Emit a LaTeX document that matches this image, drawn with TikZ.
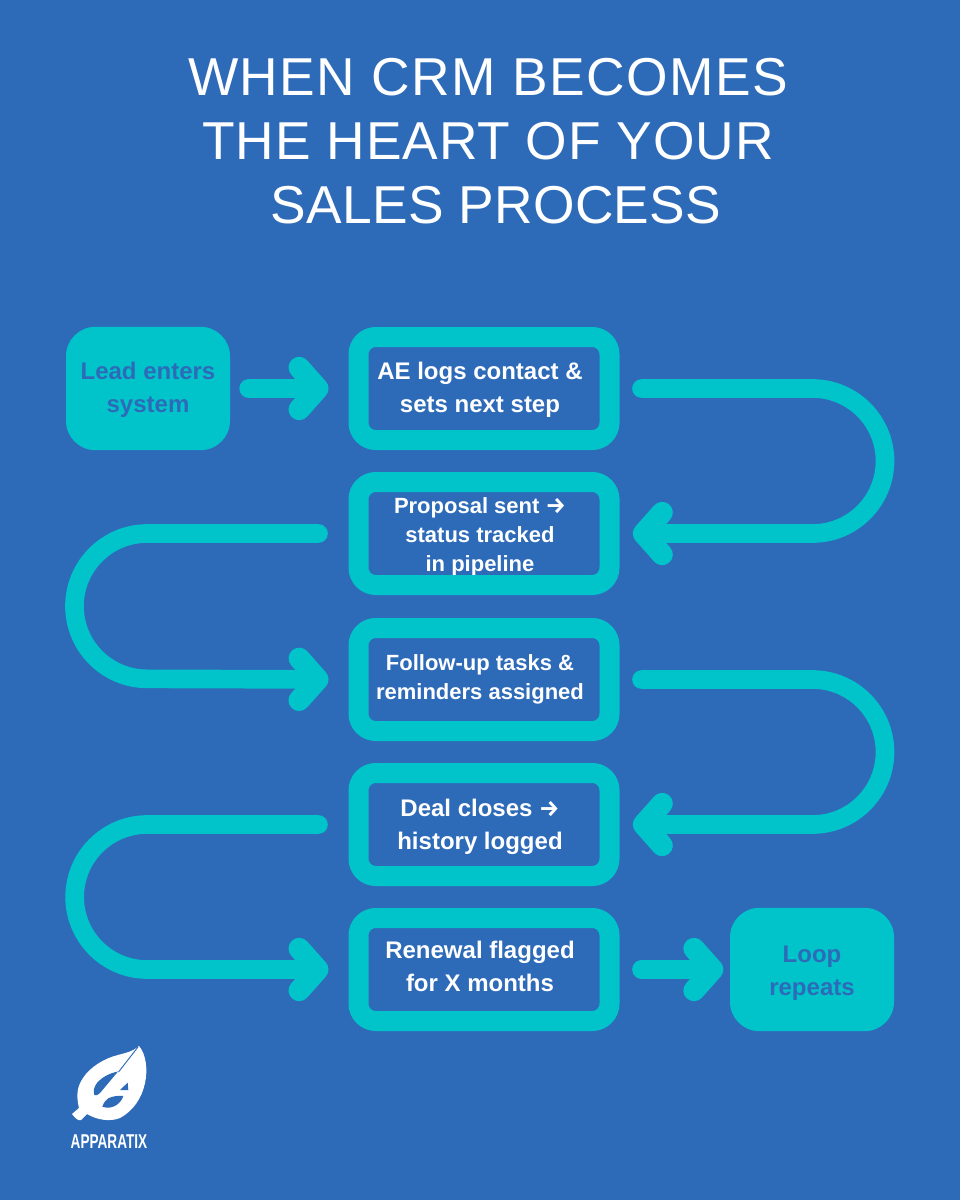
\documentclass[tikz,border=0pt]{standalone}
\usepackage{fontspec}
\setmainfont{Liberation Sans}
\newfontfamily\titlefont{Liberation Sans}
\newfontfamily\appfont[FakeStretch=0.68]{Liberation Sans}
\newfontfamily\arrowfont{Fira Sans}
\newcommand{\rarr}{{\arrowfont\bfseries\fontsize{17}{17}\selectfont →}}
\usetikzlibrary{arrows.meta}
\definecolor{bgblue}{HTML}{2D6BB9}
\definecolor{teal}{HTML}{01C4CA}
\tikzset{
  x=0.75pt,y=-0.75pt,
  stepbox/.style={draw=teal,line width=15pt,rounded corners=13pt,minimum width=188.25pt,minimum height=77.25pt,inner sep=0pt,outer sep=7.5pt},
  endbox/.style={fill=teal,rounded corners=22pt,minimum width=123pt,minimum height=92.5pt,inner sep=0pt,outer sep=0pt},
  conn/.style={draw=teal,line width=14pt,line cap=round,line join=round,-{Straight Barb[length=14pt,width=31.5pt,round,line width=16pt]}},
  big/.style={text=white,font=\bfseries\fontsize{18}{24.75}\selectfont,align=center,inner sep=0pt},
  small/.style={text=white,font=\bfseries\fontsize{16.5}{21.75}\selectfont,align=center,inner sep=0pt},
  dark/.style={text=bgblue,font=\bfseries\fontsize{18}{24.75}\selectfont,align=center,inner sep=0pt},
}
\begin{document}
\begin{tikzpicture}
\fill[bgblue] (0,0) rectangle (960,1200);
\useasboundingbox (0,0) rectangle (960,1200);
\node[text=white,align=center,inner sep=0pt,font=\titlefont\fontsize{40}{48}\selectfont] (title) at (488,141) {\addfontfeature{LetterSpace=2.7}WHEN CRM BECOMES\\\addfontfeature{LetterSpace=1.8}THE HEART OF YOUR\\\hspace*{12pt}\addfontfeature{LetterSpace=0.5}SALES PROCESS};
% texts first: the box borders lie over them
\node[big] (aeT) at (480,390) {AE logs contact \&\\sets next step};
\node[small] (propT) at (480,537) {Proposal sent \rarr\\status tracked\\in pipeline};
\node[small] (followT) at (480,679.5) {Follow-up tasks \&\\reminders assigned};
\node[big] (dealT) at (480,827) {Deal closes \rarr\\history logged};
\node[big] (renewT) at (480,966) {Renewal flagged\\for X months};
% boxes
\node[endbox] (lead) at (148,388.5) {};
\node[dark] (leadT) at (148,390) {Lead enters\\system};
\node[stepbox] (ae) at (484,388.5) {};
\node[stepbox] (prop) at (484,533.5) {};
\node[stepbox] (follow) at (484,679.5) {};
\node[stepbox] (deal) at (484,824.5) {};
\node[stepbox] (renew) at (484,969.5) {};
\node[endbox] (loop) at (812,969.5) {};
\node[dark] (loopT) at (812,973) {Loop\\repeats};
% connectors
\draw[conn,shorten >=15pt] ([xshift=14pt]lead.east) -- (ae.west);
\draw[conn,shorten >=10pt] ([xshift=16.5pt]ae.east) -- ([xshift=144.75pt]ae.east) arc[start angle=90,end angle=-90,radius=54.375pt] -- (prop.east);
\draw[conn,shorten >=15pt] ([xshift=-22.5pt]prop.west) -- ([xshift=-151pt]prop.west) arc[start angle=90,end angle=270,radius=54.5pt] -- (follow.west);
\draw[conn,shorten >=10pt] ([xshift=16.5pt]follow.east) -- ([xshift=144.75pt]follow.east) arc[start angle=90,end angle=-90,radius=54.375pt] -- (deal.east);
\draw[conn,shorten >=15pt] ([xshift=-22.5pt]deal.west) -- ([xshift=-151pt]deal.west) arc[start angle=90,end angle=270,radius=54.375pt] -- (renew.west);
\draw[conn,shorten >=5pt] ([xshift=16.5pt]renew.east) -- (loop.west);
% logo
\fill[white] (139,1046) .. controls (146,1054) and (148,1070) .. (145,1083)
  .. controls (142,1098) and (133,1111) .. (120,1118) .. controls (110,1122) and (97,1120) .. (87,1114)
  -- (81,1120) .. controls (78,1121) and (75,1118) .. (72,1114) -- (79,1108)
  .. controls (76,1095) and (77,1087) .. (83,1078) .. controls (90,1067) and (105,1058) .. (118,1055)
  .. controls (125,1053) and (132,1052) .. (139,1046) -- cycle;
\fill[bgblue] (118,1071.5) .. controls (110,1073) and (102,1077) .. (97,1083) .. controls (94,1087) and (93,1091) .. (94.3,1095) .. controls (96,1096) and (98,1095) .. (100,1093) -- cycle;
\draw[bgblue,line width=0.7pt] (138,1047) -- (118.5,1072);
\fill[bgblue] (120,1090) -- (127.7,1082.7) -- (128.3,1090) -- cycle;
\fill[bgblue] (102.3,1106.7) .. controls (104,1102) and (106,1100) .. (108.3,1098.3) .. controls (113,1096) and (118,1095.5) .. (123.3,1096) .. controls (122,1100) and (120,1102) .. (118,1104) .. controls (113,1108) and (107,1108.5) .. (102.3,1106.7) -- cycle;
\node[text=white,inner sep=0pt,font=\appfont\bfseries\fontsize{15}{15}\selectfont] (brand) at (109,1142) {APPARATIX};
\end{tikzpicture}
\end{document}
